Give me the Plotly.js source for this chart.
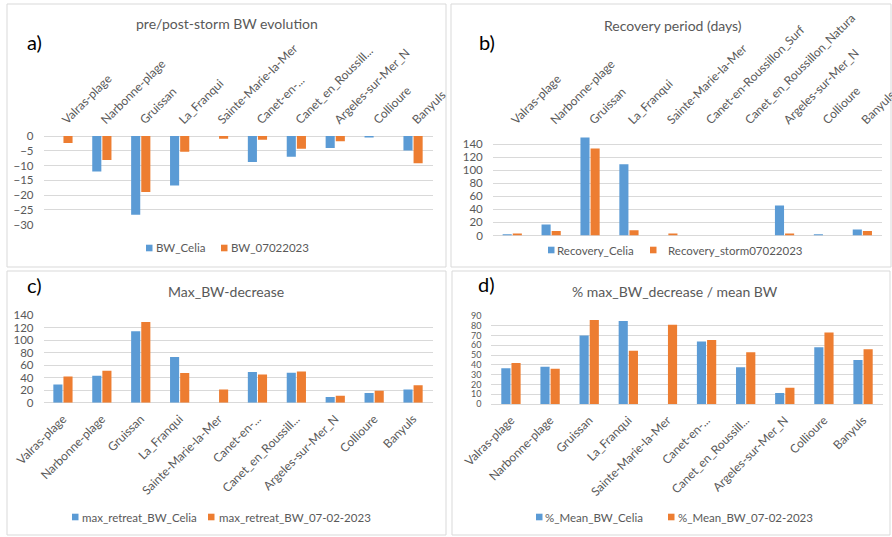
<!DOCTYPE html>
<html>
<head>
<meta charset="utf-8">
<script src="https://cdn.plot.ly/plotly-3.0.1.min.js"></script>
<style>html,body{margin:0;padding:0;background:#fff;}#chart{width:892px;height:537px;}</style>
</head>
<body>
<div id="chart"></div>
<script>
// ---- data ----
const sites = ['Valras-plage','Narbonne-plage','Gruissan','La_Franqui','Sainte-Marie-la-Mer','Canet-en-Roussillon_Surf','Canet_en_Roussillon_Natura','Argeles-sur-Mer_N','Collioure','Banyuls'];
const shortLabels = ['Valras-plage','Narbonne-plage','Gruissan','La_Franqui','Sainte-Marie-la-Mer','Canet-en-...','Canet_en_Roussill...','Argeles-sur-Mer_N','Collioure','Banyuls'];

const bwCelia = [0, -12, -26.7, -16.8, 0, -8.8, -7, -4.1, -0.5, -4.9];
const bw07022023 = [-2.4, -8.1, -19, -5.3, -0.9, -1.3, -4.3, -1.8, 0, -9.2];

const recoveryCelia = [2, 17, 150, 109, 0, 0, 0, 46, 2, 9];
const recoveryStorm = [3, 7, 133, 8, 3, 0, 0, 3, 0, 7];

const maxRetreatCelia = [29, 43, 114, 73, 0, 49, 48, 9, 15.5, 21];
const maxRetreat0702 = [42, 51, 129, 47.5, 21, 45, 50, 11, 19, 28];

const pctMeanCelia = [36.5, 38, 70, 85, 0, 64, 37.5, 11.3, 58, 45];
const pctMean0702 = [42, 36, 86, 54.5, 81, 65.5, 53, 16.7, 73, 56];

const seriesNames = {
  a: ['BW_Celia', 'BW_07022023'],
  b: ['Recovery_Celia', 'Recovery_storm07022023'],
  c: ['max_retreat_BW_Celia', 'max_retreat_BW_07-02-2023'],
  d: ['%_Mean_BW_Celia', '%_Mean_BW_07-02-2023']
};

// ---- styles ----
const BLUE = '#5B9BD5', ORANGE = '#ED7D31', GRAY = '#595959', GRID = '#D9D9D9';
const FONT = 'Lato, "Open Sans", sans-serif';
const W = 892, H = 537;
const px = v => v / W;
const py = v => 1 - v / H;

function bar(x, y, name, color, xa, ya) {
  return {type:'bar', x:x, y:y, name:name, marker:{color:color}, xaxis:xa, yaxis:ya, showlegend:false, hoverinfo:'x+y+name'};
}

const traces = [
  bar(sites, bwCelia, seriesNames.a[0], BLUE, 'x', 'y'),
  bar(sites, bw07022023, seriesNames.a[1], ORANGE, 'x', 'y'),
  bar(sites, recoveryCelia, seriesNames.b[0], BLUE, 'x2', 'y2'),
  bar(sites, recoveryStorm, seriesNames.b[1], ORANGE, 'x2', 'y2'),
  bar(sites, maxRetreatCelia, seriesNames.c[0], BLUE, 'x3', 'y3'),
  bar(sites, maxRetreat0702, seriesNames.c[1], ORANGE, 'x3', 'y3'),
  bar(sites, pctMeanCelia, seriesNames.d[0], BLUE, 'x4', 'y4'),
  bar(sites, pctMean0702, seriesNames.d[1], ORANGE, 'x4', 'y4')
];

const catFont = {family: FONT, size: 12, color: GRAY};

function xax(domain, anchor, side, labels) {
  return {domain: domain, anchor: anchor, side: side, type: 'category',
    tickangle: -45, tickfont: catFont, showgrid: false, showline: false, zeroline: false,
    ticks: '', tickmode: 'array', tickvals: sites, ticktext: labels, ticklabelstandoff: 6,
    fixedrange: true};
}
function yax(domain, anchor, range, dtick, fsize) {
  return {domain: domain, anchor: anchor, range: range, dtick: dtick,
    tickfont: {family: FONT, size: fsize, color: GRAY},
    showgrid: true, gridcolor: GRID, gridwidth: 1, zeroline: true, zerolinecolor: GRID, zerolinewidth: 1,
    showline: false, ticks: '', ticklabelstandoff: 9, fixedrange: true};
}

function border(x0, y0, x1, y1) {
  return {type: 'rect', xref: 'paper', yref: 'paper', x0: px(x0), x1: px(x1), y0: py(y0), y1: py(y1),
    line: {color: GRID, width: 1}, fillcolor: 'rgba(0,0,0,0)', layer: 'below'};
}

function label(text, cx, cy, size, color, anchor) {
  return {text: text, xref: 'paper', yref: 'paper', x: px(cx), y: py(cy), xanchor: anchor || 'center', yanchor: 'middle',
    showarrow: false, font: {family: FONT, size: size, color: color}};
}

// legend built from squares + texts: [squareLeft, textLeft] for each of the two entries
const shapes = [border(7, 4, 446, 267), border(451, 4, 891, 267), border(7, 271, 446, 535), border(452, 271, 890, 535)];
const annotations = [
  label('pre/post-storm BW evolution', 227, 24, 14, GRAY),
  label('Recovery period (days)', 673, 25, 14, GRAY),
  label('Max_BW-decrease', 226, 291, 14, GRAY),
  label('% max_BW_decrease / mean BW', 675, 291, 14, GRAY),
  label('a)', 34, 42, 20, '#000'),
  label('b)', 487, 42, 20, '#000'),
  label('c)', 34, 285, 20, '#000'),
  label('d)', 487, 284, 20, '#000')
];
function addLegend(names, cy, entries) {
  const colors = [BLUE, ORANGE];
  entries.forEach((e, i) => {
    shapes.push({type: 'rect', xref: 'paper', yref: 'paper', x0: px(e[0]), x1: px(e[0] + 6.5),
      y0: py(cy + 3.3), y1: py(cy - 3.3), line: {width: 0}, fillcolor: colors[i]});
    annotations.push(label(names[i], e[1], cy, 11.5, GRAY, 'left'));
  });
}
addLegend(seriesNames.a, 248, [[146, 154], [221, 229]]);
addLegend(seriesNames.b, 250, [[548, 555], [650, 666]]);
addLegend(seriesNames.c, 517, [[72, 80], [208, 217]]);
addLegend(seriesNames.d, 517, [[536, 543], [668, 676]]);

const layout = {
  width: W, height: H, autosize: false,
  margin: {l: 0, r: 0, t: 0, b: 0},
  paper_bgcolor: '#fff', plot_bgcolor: 'rgba(0,0,0,0)',
  barmode: 'group', bargap: 0.48, bargroupgap: 0.1,
  font: {family: FONT, color: GRAY},
  showlegend: false,
  xaxis: xax([px(43.5), px(432.5)], 'y', 'top', shortLabels),
  yaxis: yax([py(224.5), py(136)], 'x', [-30, 0], 5, 11.5),
  xaxis2: xax([px(492.8), px(881.8)], 'y2', 'top', sites),
  yaxis2: yax([py(235.5), py(136.2)], 'x2', [0, 152], 20, 11.5),
  xaxis3: xax([px(43.5), px(432.5)], 'y3', 'bottom', shortLabels),
  yaxis3: yax([py(402.7), py(315)], 'x3', [0, 140], 20, 11.5),
  xaxis4: xax([px(491.4), px(882.6)], 'y4', 'bottom', shortLabels),
  yaxis4: yax([py(404), py(316)], 'x4', [0, 90], 10, 9),
  shapes: shapes,
  annotations: annotations
};

Plotly.newPlot('chart', traces, layout, {displayModeBar: false, staticPlot: true});
</script>
</body>
</html>
